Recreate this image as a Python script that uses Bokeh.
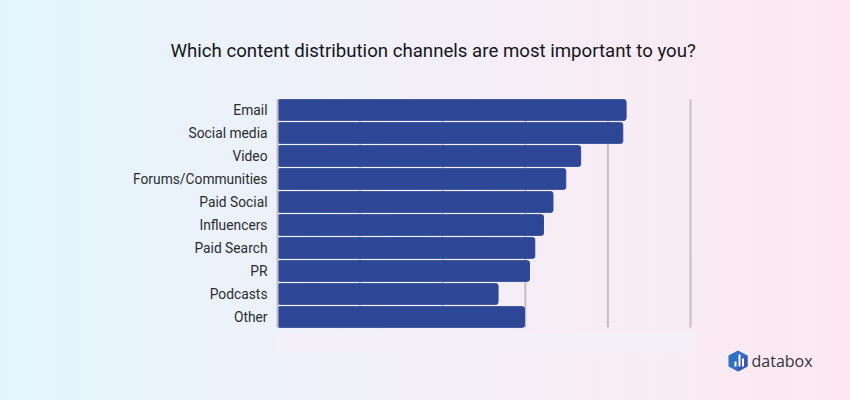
from bokeh.plotting import figure
from bokeh.models import Range1d, BoxAnnotation, PolyAnnotation, Label, FixedTicker
from bokeh.embed import file_html
from bokeh.resources import INLINE

categories = ["Email", "Social media", "Video", "Forums/Communities", "Paid Social",
              "Influencers", "Paid Search", "PR", "Podcasts", "Other"]
values = [84.4, 83.6, 73.4, 69.8, 66.7, 64.4, 62.3, 61.0, 53.4, 59.8]
x_ticks = [20, 40, 60, 80, 100]
title_text = "Which content distribution channels are most important to you?"
brand = "databox"

W, H = 850, 400
FRAME_TOP = 61
ZERO_PX, HUNDRED_PX = 277, 690
ROW_PX, FIRST_ROW_PX = 23, 109.5
GRID = "#c5bdc8"

unit = (HUNDRED_PX - ZERO_PX) / 100
positions = list(range(len(categories)))
p = figure(width=W, height=H, output_backend="svg", toolbar_location=None,
           x_range=Range1d(-ZERO_PX / unit, (W - ZERO_PX) / unit),
           y_range=Range1d((H - FIRST_ROW_PX) / ROW_PX, (FRAME_TOP - FIRST_ROW_PX) / ROW_PX),
           min_border_left=0, min_border_right=0, min_border_top=FRAME_TOP, min_border_bottom=0,
           background_fill_alpha=0, border_fill_alpha=0, outline_line_color=None)
p.styles = {"position": "fixed", "left": "0", "top": "0",
            "background": "linear-gradient(90deg,#e2f5fd 0%,#f3eff7 50%,#fde8f1 100%)"}

p.title.text = title_text
p.title.text_font = "Roboto"
p.title.text_font_size = "18.65px"
p.title.text_font_style = "normal"
p.title.text_color = "#15151a"
p.title.align = "left"
p.title.offset = 170
p.title.standoff = 0

span = (positions[0] - 0.456, positions[-1] + 0.456)
p.xaxis.visible = False
p.grid.visible = False
p.segment(x0=x_ticks, x1=x_ticks, y0=span[0], y1=span[1], line_color=GRID, line_width=2)
p.hbar(y=positions, right=values, left=0, height=0.9, color="#2d4796", border_radius=2)

ax = p.yaxis[0]
ax.fixed_location = 0
ax.bounds = span
ax.ticker = FixedTicker(ticks=positions)
ax.major_label_overrides = dict(zip(positions, categories))
ax.axis_line_color = GRID
ax.axis_line_width = 2
ax.major_tick_line_color = None
ax.minor_tick_line_color = None
ax.major_label_text_font = "Roboto"
ax.major_label_text_font_size = "13.8px"
ax.major_label_text_color = "#2b2b30"
ax.major_label_standoff = 4


def box(l, r, t, b, color, level="annotation"):
    p.add_layout(BoxAnnotation(left=l, right=r, top=t, bottom=b,
                               left_units="canvas", right_units="canvas", top_units="canvas", bottom_units="canvas",
                               fill_color=color, fill_alpha=1, line_color=None, level=level))


def poly(xs, ys, color):
    p.add_layout(PolyAnnotation(xs=xs, ys=ys, xs_units="canvas", ys_units="canvas",
                                fill_color=color, fill_alpha=1, line_color=None))


# pale strip below the plot
box(275, 695, 333, 352, "#f4f0f8", "underlay")

# logo
poly([737.5, 747, 747, 737.5, 728, 728], [350, 355, 366, 371, 366, 355], "#2f6fc4")
poly([737.5, 747, 747, 737.5], [360, 355, 366, 371], "#3a55b4")
for l, r, t in [(734, 736, 361), (738, 740, 354), (741.5, 743.5, 358)]:
    box(l, r, t, 366, "white")
p.add_layout(Label(x=751, y=360, x_units="canvas", y_units="canvas", text=brand,
                   text_font="Open Sans", text_font_size="16px", text_font_style="normal",
                   text_color="#2f323b", text_baseline="middle", text_align="left"))

open("out.html", "w").write(file_html(p, INLINE))
